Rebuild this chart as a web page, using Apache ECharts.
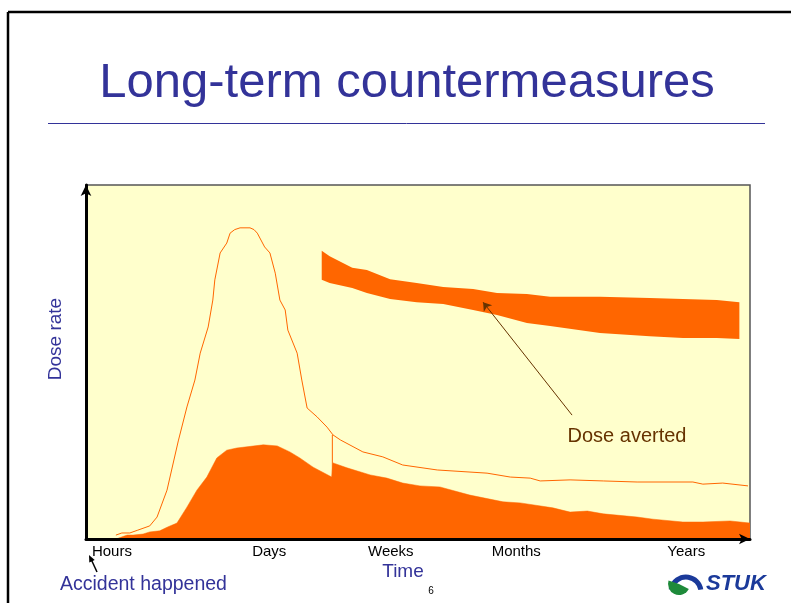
<!DOCTYPE html>
<html><head><meta charset="utf-8">
<script src="https://cdn.jsdelivr.net/npm/echarts@6/dist/echarts.min.js"></script>
<style>html,body{margin:0;padding:0;background:#fff}#c{width:791px;height:603px}</style>
</head><body><div id="c"></div>
<script>
// x: relative time position (0-100), y: relative dose rate (0-100)
const tickLabels = ['Hours', 'Days', 'Weeks', 'Months', 'Years'];
const tickPositions = [3.9, 27.6, 45.9, 64.8, 90.4];

// dose rate without countermeasures (thin line)
const peakLine = [[4.5,1.1],[5.4,1.7],[6.6,1.7],[7.8,2.5],[9.6,3.7],[10.7,6.2],[12.2,13.8],[13.9,27.7],[15.2,37.3],[16.4,44.9],[17.2,52.5],[18.4,59.9],[19.1,67.5],[19.4,73.2],[20.2,80.8],[21.2,83.6],[21.7,86.4],[22.4,87.4],[23.2,87.9],[24.7,87.9],[25.3,87.4],[25.8,86.4],[26.9,82.5],[27.7,80.8],[28.5,75.1],[29.2,67.5],[30.0,64.7],[30.4,59.0],[31.8,52.5],[32.5,44.9],[33.3,37.0],[34.8,34.5],[36.3,31.6],[37.2,29.4],[38.3,28.0],[41.7,24.6],[44.7,23.2],[47.7,20.9],[52.9,19.5],[60.4,18.6],[63.9,17.5],[66.9,17.2],[68.4,16.4],[72.9,16.7],[77.9,16.4],[83.0,16.1],[91.4,16.1],[92.9,15.5],[95.9,15.8],[99.7,15.0]];
const peakDrop = [[37.1,29.4],[37.1,17.5]];

// dose rate with countermeasures (filled area)
const shielded = [[4.5,0],[6.2,1.1],[7.1,1.1],[8.6,1.4],[9.6,2.0],[11.1,2.3],[12.3,3.4],[13.7,4.5],[15.2,9.0],[16.7,13.8],[18.2,17.5],[19.7,22.9],[21.2,25.1],[22.7,25.7],[26.7,26.6],[28.8,26.3],[30.7,24.6],[32.2,22.9],[34.2,20.3],[37.0,17.5],[37.2,21.5],[39.3,20.1],[42.8,18.1],[45.3,17.2],[47.7,15.8],[50.3,15.0],[53.3,14.7],[57.8,12.4],[62.8,10.5],[65.4,10.2],[70.3,8.8],[72.9,7.6],[75.5,7.9],[77.9,7.1],[83.0,6.2],[85.4,5.6],[89.9,4.8],[92.9,4.8],[97.0,5.1],[100,4.5]];

// dose averted band
const bandX =     [35.5, 36.7, 40.1, 42.3, 45.8, 49.8, 53.8, 58.3, 61.9, 66.4, 69.9, 77.4, 84.9, 89.9, 95.0, 98.4];
const bandUpper = [81.4, 79.9, 76.6, 76.0, 73.4, 72.3, 71.2, 70.6, 69.5, 69.2, 68.4, 68.4, 68.1, 67.8, 67.5, 66.9];
const bandLower = [73.2, 72.3, 70.9, 69.5, 67.8, 66.9, 66.4, 64.7, 63.3, 61.0, 60.2, 58.2, 57.3, 56.8, 56.8, 56.5];

const annotFrom = [73.2, 35.0];
const annotTo = [59.8, 66.9];

const ORANGE = '#FF6600';
const BLUE = '#333399';
const FONT = 'Liberation Sans, Arial, sans-serif';

const chart = echarts.init(document.getElementById('c'), null, {renderer: 'canvas'});
chart.setOption({
  animation: false,
  backgroundColor: '#ffffff',
  grid: {left: 86, top: 185, right: 41, bottom: 64, show: true, backgroundColor: '#FFFFCC', borderColor: '#555', borderWidth: 1.5},
  xAxis: {
    type: 'value', min: 0, max: 100, z: 10,
    splitLine: {show: false}, axisTick: {show: false},
    axisLine: {show: true, onZero: false, symbol: ['none', 'arrow'], symbolSize: [8, 11], lineStyle: {color: '#000', width: 3}},
    axisLabel: {
      customValues: tickPositions, color: '#000', fontSize: 15, fontFamily: FONT, margin: 5,
      formatter: function (v) {
        let best = 0;
        tickPositions.forEach((p, i) => { if (Math.abs(p - v) < Math.abs(tickPositions[best] - v)) best = i; });
        return tickLabels[best];
      }
    }
  },
  yAxis: {
    type: 'value', min: 0, max: 100, z: 10,
    splitLine: {show: false}, axisTick: {show: false}, axisLabel: {show: false},
    axisLine: {show: true, onZero: false, symbol: ['none', 'arrow'], symbolSize: [8, 11], lineStyle: {color: '#000', width: 3}}
  },
  series: [
    {type: 'custom', silent: true, data: [0],
     renderItem: function (params, api) {
       const pts = [];
       bandX.forEach((x, i) => pts.push(api.coord([x, bandUpper[i]])));
       for (let i = bandX.length - 1; i >= 0; i--) pts.push(api.coord([bandX[i], bandLower[i]]));
       return {type: 'polygon', shape: {points: pts}, style: {fill: ORANGE}};
     }},
    {type: 'line', symbol: 'none', silent: true, data: shielded,
     lineStyle: {width: 0.5, color: ORANGE}, areaStyle: {color: ORANGE, opacity: 1}},
    {type: 'line', symbol: 'none', silent: true, data: peakLine,
     lineStyle: {width: 1, color: ORANGE},
     markLine: {silent: true, symbol: ['none', 'arrow'], symbolSize: 8, label: {show: false},
       lineStyle: {color: '#663300', width: 1, type: 'solid'},
       data: [[{coord: annotFrom}, {coord: annotTo}]]}},
    {type: 'line', symbol: 'none', silent: true, data: peakDrop,
     lineStyle: {width: 1, color: ORANGE}}
  ],
  graphic: [
    {type: 'line', z: 100, shape: {x1: 8, y1: 12, x2: 791, y2: 12}, style: {stroke: '#000', lineWidth: 2.5}},
    {type: 'line', z: 100, shape: {x1: 8, y1: 12, x2: 8, y2: 603}, style: {stroke: '#000', lineWidth: 2.5}},
    {type: 'text', z: 100, x: 407, y: 83, style: {text: 'Long-term countermeasures', fill: BLUE, font: '49px ' + FONT, textAlign: 'center', textVerticalAlign: 'middle'}},
    {type: 'line', z: 100, shape: {x1: 48, y1: 123.5, x2: 765, y2: 123.5}, style: {stroke: BLUE, lineWidth: 1}},
    {type: 'text', z: 100, x: 56, y: 339, rotation: Math.PI / 2, style: {text: 'Dose rate', fill: BLUE, font: '19px ' + FONT, textAlign: 'center', textVerticalAlign: 'middle'}},
    {type: 'text', z: 100, x: 403, y: 572, style: {text: 'Time', fill: BLUE, font: '19px ' + FONT, textAlign: 'center', textVerticalAlign: 'middle'}},
    {type: 'text', z: 100, x: 431, y: 591, style: {text: '6', fill: '#000', font: '10px ' + FONT, textAlign: 'center', textVerticalAlign: 'middle'}},
    {type: 'text', z: 100, x: 60, y: 585, style: {text: 'Accident happened', fill: BLUE, font: '19.5px ' + FONT, textAlign: 'left', textVerticalAlign: 'middle'}},
    {type: 'line', z: 100, shape: {x1: 97, y1: 572, x2: 91, y2: 559}, style: {stroke: '#000', lineWidth: 1.5}},
    {type: 'polygon', z: 100, shape: {points: [[89, 555], [94.7, 560], [89.3, 562.6]]}, style: {fill: '#000'}},
    {type: 'text', z: 100, x: 627, y: 436, style: {text: 'Dose averted', fill: '#663300', font: '20px ' + FONT, textAlign: 'center', textVerticalAlign: 'middle'}},
    {type: 'arc', z: 100, shape: {cx: 686, cy: 592, r: 15, startAngle: Math.PI * 1.05, endAngle: Math.PI * 1.95}, style: {stroke: '#1B3A9A', lineWidth: 5, fill: null}},
    {type: 'sector', z: 100, shape: {cx: 679, cy: 584, r0: 0, r: 11, startAngle: Math.PI * 0.15, endAngle: Math.PI * 1.1}, style: {fill: '#1E8A3A'}},
    {type: 'text', z: 100, x: 706, y: 584, style: {text: 'STUK', fill: '#1B3A9A', font: 'italic bold 22px ' + FONT, textAlign: 'left', textVerticalAlign: 'middle'}}
  ]
});
</script></body></html>
